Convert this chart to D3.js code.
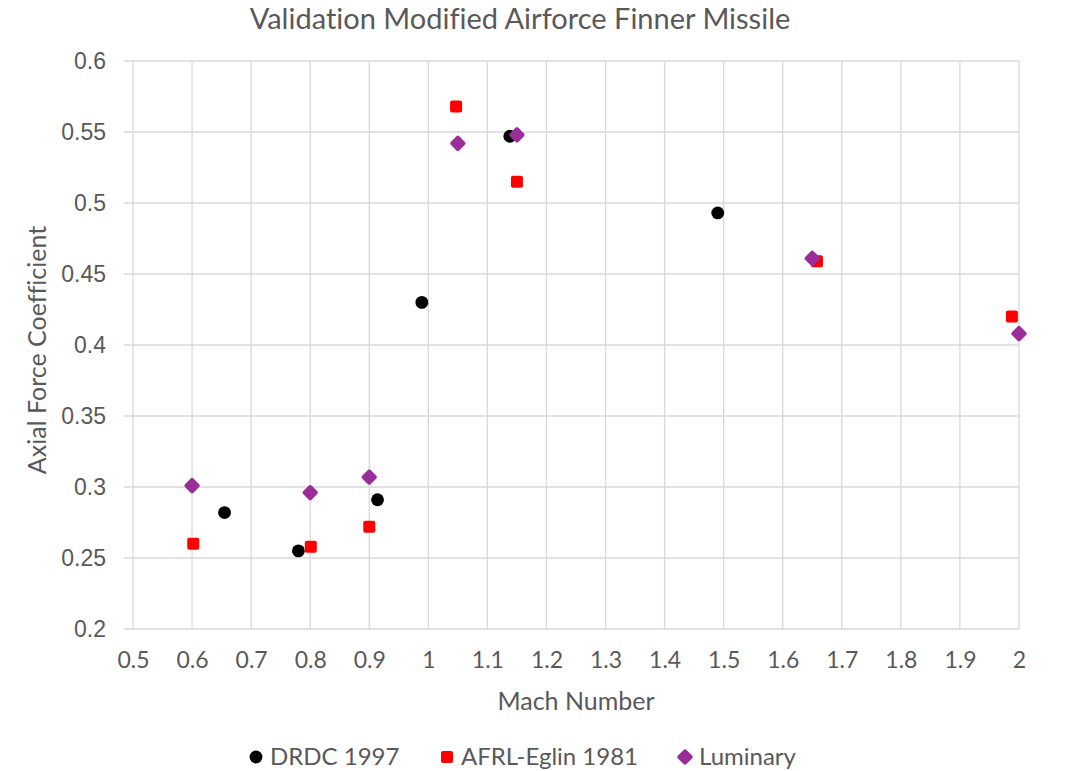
<!DOCTYPE html>
<html>
<head>
<meta charset="utf-8">
<script src="https://d3js.org/d3.v7.min.js"></script>
<style>
  body { margin: 0; background: #fff; }
  svg { display: block; }
  text { font-variant-ligatures: none; }
</style>
</head>
<body>
<div id="chart"></div>
<script>
// series (Mach number, axial force coefficient)
const drdcMach = [0.655, 0.78, 0.914, 0.989, 1.138, 1.49];
const drdcCa   = [0.282, 0.255, 0.291, 0.430, 0.547, 0.493];

const afrlMach = [0.602, 0.801, 0.9, 1.047, 1.15, 1.658, 1.988];
const afrlCa   = [0.260, 0.258, 0.272, 0.568, 0.515, 0.459, 0.420];

const lumMach = [0.6, 0.8, 0.9, 1.05, 1.15, 1.65, 2.0];
const lumCa   = [0.301, 0.296, 0.307, 0.542, 0.548, 0.461, 0.408];

const xTicks = [0.5, 0.6, 0.7, 0.8, 0.9, 1, 1.1, 1.2, 1.3, 1.4, 1.5, 1.6, 1.7, 1.8, 1.9, 2];
const yTicks = [0.2, 0.25, 0.3, 0.35, 0.4, 0.45, 0.5, 0.55, 0.6];

const width = 1080, height = 771;
const margin = { top: 61, right: 61, bottom: 143, left: 133 };
const textFont = "Lato, 'Open Sans', sans-serif";
const gray = "#595959";

const svg = d3.select("#chart").append("svg")
    .attr("width", width)
    .attr("height", height);

const x = d3.scaleLinear().domain([0.5, 2]).range([margin.left, width - margin.right]);
const y = d3.scaleLinear().domain([0.2, 0.6]).range([height - margin.bottom + 1, margin.top]);

// gridlines
svg.append("g").selectAll("line").data(xTicks).join("line")
    .attr("x1", d => x(d)).attr("x2", d => x(d))
    .attr("y1", y(0.6)).attr("y2", y(0.2))
    .attr("stroke", "#d9d9d9").attr("stroke-width", 1.3);
svg.append("g").selectAll("line").data(yTicks).join("line")
    .attr("x1", x(0.5) - 9).attr("x2", x(2))
    .attr("y1", d => y(d)).attr("y2", d => y(d))
    .attr("stroke", "#d9d9d9").attr("stroke-width", 1.3);

// x axis labels
const xAxis = svg.append("g")
    .attr("transform", `translate(0,${y(0.2)})`)
    .call(d3.axisBottom(x).tickValues(xTicks).tickFormat(d3.format("")).tickSize(0).tickPadding(23));
xAxis.select(".domain").remove();
xAxis.selectAll("text")
    .attr("fill", gray)
    .style("font-family", textFont)
    .style("font-size", "23px");

// y axis labels
const yAxis = svg.append("g")
    .attr("transform", `translate(${x(0.5)},0)`)
    .call(d3.axisLeft(y).tickValues(yTicks).tickFormat(d3.format("")).tickSize(0).tickPadding(27));
yAxis.select(".domain").remove();
yAxis.selectAll("text")
    .attr("fill", gray)
    .style("font-family", "'Liberation Sans', Arial, sans-serif")
    .style("font-size", "23px");

// titles
svg.append("text")
    .attr("x", 520).attr("y", 29)
    .attr("text-anchor", "middle")
    .attr("fill", gray)
    .style("font-family", textFont)
    .style("font-size", "29px")
    .text("Validation Modified Airforce Finner Missile");

svg.append("text")
    .attr("x", (x(0.5) + x(2)) / 2).attr("y", 710)
    .attr("text-anchor", "middle")
    .attr("fill", gray)
    .style("font-family", textFont)
    .style("font-size", "25px")
    .text("Mach Number");

svg.append("text")
    .attr("transform", `translate(46,${(y(0.2) + y(0.6)) / 2 + 5}) rotate(-90)`)
    .attr("text-anchor", "middle")
    .attr("fill", gray)
    .style("font-family", textFont)
    .style("font-size", "25px")
    .text("Axial Force Coefficient");

// markers
const symCircle = d3.symbol().type(d3.symbolCircle).size(130);

const series = [
    { name: "DRDC 1997", mx: drdcMach, my: drdcCa, color: "#000000", shape: "circle" },
    { name: "AFRL-Eglin 1981", mx: afrlMach, my: afrlCa, color: "#ff0000", shape: "square" },
    { name: "Luminary", mx: lumMach, my: lumCa, color: "#992e9b", shape: "diamond" }
];

function drawMarker(g, s, cx, cy) {
    if (s.shape === "circle") {
        g.append("path").attr("d", symCircle()).attr("transform", `translate(${cx},${cy})`).attr("fill", s.color);
    } else if (s.shape === "square") {
        g.append("rect").attr("x", cx - 6).attr("y", cy - 6).attr("width", 12).attr("height", 12)
            .attr("rx", 2).attr("fill", s.color);
    } else {
        g.append("rect").attr("x", -6).attr("y", -6).attr("width", 12).attr("height", 12)
            .attr("rx", 2).attr("fill", s.color)
            .attr("transform", `translate(${cx},${cy}) rotate(45)`);
    }
}

const marks = svg.append("g");
series.forEach(s => {
    s.mx.forEach((m, i) => drawMarker(marks, s, x(m), y(s.my[i])));
});

// legend
const legendX = [256, 447, 685];
const legend = svg.append("g");
series.forEach((s, i) => {
    drawMarker(legend, s, legendX[i], 757);
    legend.append("text")
        .attr("x", legendX[i] + 14).attr("y", 757)
        .attr("dy", "0.35em")
        .attr("fill", gray)
        .style("font-family", textFont)
        .style("font-size", "24px")
        .text(s.name);
});
</script>
</body>
</html>
